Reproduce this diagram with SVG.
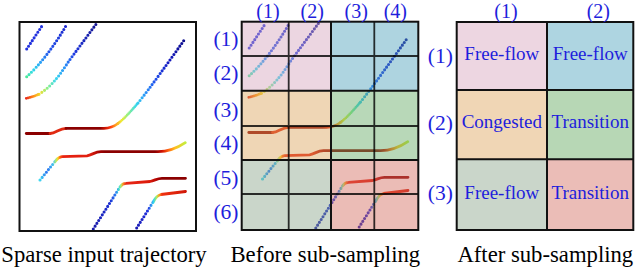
<svg xmlns="http://www.w3.org/2000/svg" width="638" height="268" viewBox="0 0 638 268">
<style>
.dot{fill:none;stroke-linecap:round;stroke-dasharray:0 3.35;stroke-width:3.1}
.dns{fill:none;stroke-linecap:round;stroke-dasharray:0 1.8;stroke-width:2.8}
.sol{fill:none;stroke-linecap:round;stroke-width:2.8}
.frame{fill:none;stroke:#111;stroke-width:2}
.sub{fill:none;stroke:#000;stroke-opacity:0.8;stroke-width:1.8}
.lbl{font-family:"Liberation Serif","Times New Roman",serif;font-size:21.5px;fill:#1e1edc;text-anchor:middle}
.top{font-size:20px}
.cell{font-family:"Liberation Serif","Times New Roman",serif;font-size:19px;fill:#1e1edc;text-anchor:middle}
.cap{font-family:"Liberation Serif","Times New Roman",serif;font-size:22.7px;fill:#000;text-anchor:middle}
</style>
<defs>
<linearGradient id="gB" gradientUnits="userSpaceOnUse" x1="26.7" y1="76.7" x2="67" y2="24">
<stop offset="0" stop-color="#4ce89a"/><stop offset="0.12" stop-color="#30dce8"/><stop offset="0.3" stop-color="#2aa0f6"/><stop offset="0.5" stop-color="#2456ea"/><stop offset="1" stop-color="#1a22cc"/>
</linearGradient>
<linearGradient id="gC" gradientUnits="userSpaceOnUse" x1="26" y1="0" x2="97" y2="0">
<stop offset="0" stop-color="#e8281a"/><stop offset="0.1" stop-color="#ff8a1a"/><stop offset="0.2" stop-color="#f0e030"/><stop offset="0.3" stop-color="#8cf08a"/><stop offset="0.42" stop-color="#38d8f0"/><stop offset="0.55" stop-color="#2a90f8"/><stop offset="0.68" stop-color="#2038e0"/><stop offset="1" stop-color="#12128c"/>
</linearGradient>
<linearGradient id="gD" gradientUnits="userSpaceOnUse" x1="100" y1="0" x2="186" y2="0">
<stop offset="0" stop-color="#8b0000"/><stop offset="0.05" stop-color="#c41000"/><stop offset="0.12" stop-color="#ff3a10"/><stop offset="0.18" stop-color="#ff9a20"/><stop offset="0.25" stop-color="#f0ea30"/><stop offset="0.33" stop-color="#8cf08c"/><stop offset="0.42" stop-color="#38d8ec"/><stop offset="0.52" stop-color="#2a98f8"/><stop offset="0.64" stop-color="#2050ec"/><stop offset="0.8" stop-color="#1418c0"/><stop offset="1" stop-color="#0c0c86"/>
</linearGradient>
<linearGradient id="gE" gradientUnits="userSpaceOnUse" x1="40" y1="0" x2="186" y2="0">
<stop offset="0" stop-color="#40d8f0"/><stop offset="0.048" stop-color="#2a70f0"/><stop offset="0.089" stop-color="#40c0f0"/><stop offset="0.11" stop-color="#b0f070"/><stop offset="0.123" stop-color="#ffd020"/><stop offset="0.137" stop-color="#ff6010"/><stop offset="0.158" stop-color="#e82010"/><stop offset="0.342" stop-color="#e02010"/><stop offset="0.411" stop-color="#a00000"/><stop offset="0.445" stop-color="#8b0000"/><stop offset="0.788" stop-color="#8b0000"/><stop offset="0.836" stop-color="#d01000"/><stop offset="0.877" stop-color="#ff6010"/><stop offset="0.925" stop-color="#ffc020"/><stop offset="1" stop-color="#c0f040"/>
</linearGradient>
<linearGradient id="gF" gradientUnits="userSpaceOnUse" x1="93" y1="0" x2="186" y2="0">
<stop offset="0" stop-color="#1a1aa8"/><stop offset="0.183" stop-color="#1c30d4"/><stop offset="0.247" stop-color="#2a82f4"/><stop offset="0.28" stop-color="#40e0d0"/><stop offset="0.301" stop-color="#b0f070"/><stop offset="0.323" stop-color="#ff9020"/><stop offset="0.355" stop-color="#e82818"/><stop offset="0.613" stop-color="#dc1a0a"/><stop offset="0.699" stop-color="#a80000"/><stop offset="0.742" stop-color="#8b0000"/><stop offset="1" stop-color="#8b0000"/>
</linearGradient>
<linearGradient id="gG" gradientUnits="userSpaceOnUse" x1="136" y1="0" x2="186" y2="0">
<stop offset="0" stop-color="#1a1ab0"/><stop offset="0.24" stop-color="#2030e0"/><stop offset="0.3" stop-color="#3090f0"/><stop offset="0.35" stop-color="#30d4f0"/><stop offset="0.41" stop-color="#a8f060"/><stop offset="0.46" stop-color="#ffa020"/><stop offset="0.52" stop-color="#f03010"/><stop offset="1" stop-color="#d01808"/>
</linearGradient>
</defs>

<rect width="638" height="268" fill="#fff"/>

<g id="panel-sparse">
  <g id="traj">
    <path class="dot" stroke="#2232de" d="M26.7,49 L43.3,24"/>
    <path class="dot" stroke="url(#gB)" d="M26.7,76.7 C40,65 55,45 67,24"/>
    <path class="dns" stroke="url(#gC)" d="M26.3,98.3 C31,97.3 35,96 39,94.2"/>
    <path class="dot" stroke="url(#gC)" d="M39,94.2 C46,90 52,84 56.5,78.5 C62,72 66,65 70,59.5 L96.7,23.3"/>
    <path class="sol" stroke="#8b0000" d="M26.3,133.5 L50,133.5"/>
    <path class="sol" stroke="#e02a12" d="M50,133.5 C56,133.5 59,128.4 66,128.4"/>
    <path class="sol" stroke="url(#gD)" d="M66,128.4 L104,128.3 C110,128.2 114,126.5 118,123.5"/>
    <path class="dns" stroke="url(#gD)" d="M118,123.5 C125,118 132,110 138,103"/>
    <path class="dot" stroke="url(#gD)" d="M138,103 C150,88 170,60 185.3,38.5"/>
    <path class="dot" stroke="url(#gE)" d="M40,180 L55.5,161"/>
    <path class="sol" stroke="url(#gE)" d="M55.5,161 C57,159 58.5,157 62,156.7 L87,155.8 C92,155 95,151.7 101,151.7 L158,151.7 C168,151.7 176,149 185.3,142.7"/>
    <path class="dot" stroke="url(#gF)" d="M93.3,229 L120,187"/>
    <path class="sol" stroke="url(#gF)" d="M120,187 C121.5,184.5 123,183.3 126,183.3 L150,181.5 C155,180.5 157,178.3 162,178.3 L185.5,178.3"/>
    <path class="dot" stroke="url(#gG)" d="M136.7,228 L153.5,201.5"/>
    <path class="sol" stroke="url(#gG)" d="M153.5,201.5 C155,198.5 157,195.5 161,194.5 L185.5,191.5"/>
  </g>
  <rect class="frame" x="19.5" y="22" width="176.5" height="209"/>
  <text class="cap" x="104" y="262">Sparse input trajectory</text>
</g>

<g id="panel-before">
  <use href="#traj" transform="translate(222.5,-1)"/>
  <g id="before-overlays" fill-opacity="0.45">
    <rect x="241.7" y="21.7" width="89.3" height="69" fill="#d5a4bc"/>
    <rect x="331" y="21.7" width="87.3" height="69" fill="#4b9fba"/>
    <rect x="241.7" y="90.7" width="89.3" height="69.3" fill="#dba45b"/>
    <rect x="331" y="90.7" width="87.3" height="69.3" fill="#61a861"/>
    <rect x="241.7" y="160" width="89.3" height="70" fill="#89a489"/>
    <rect x="331" y="160" width="87.3" height="70" fill="#d36a5d"/>
  </g>
  <g id="before-grid">
    <path class="sub" d="M288.7,21.7 V230 M374.3,21.7 V230 M241.7,56 H418.3 M241.7,126 H418.3 M241.7,194 H418.3"/>
    <path class="frame" d="M331,21.7 V230 M241.7,90.7 H418.3 M241.7,160 H418.3"/>
    <rect class="frame" x="241.7" y="21.7" width="176.6" height="208.3"/>
  </g>
  <g id="before-col-labels">
    <text class="lbl top" x="268" y="17.5">(1)</text>
    <text class="lbl top" x="312.2" y="17.5">(2)</text>
    <text class="lbl top" x="356.2" y="17.5">(3)</text>
    <text class="lbl top" x="395.3" y="17.5">(4)</text>
  </g>
  <g id="before-row-labels">
    <text class="lbl" x="226" y="45.5">(1)</text>
    <text class="lbl" x="226" y="79.7">(2)</text>
    <text class="lbl" x="226" y="117">(3)</text>
    <text class="lbl" x="226" y="149.7">(4)</text>
    <text class="lbl" x="226" y="184.7">(5)</text>
    <text class="lbl" x="226" y="219">(6)</text>
  </g>
  <text class="cap" x="325.3" y="262">Before sub-sampling</text>
</g>

<g id="panel-after">
  <g id="cell-1-1"><rect x="456.7" y="22" width="90.3" height="68" fill="#edd6e1"/><text class="cell" x="501.8" y="59.5">Free-flow</text></g>
  <g id="cell-1-2"><rect x="547" y="22" width="86.3" height="68" fill="#aed5e1"/><text class="cell" x="590.2" y="59.5">Free-flow</text></g>
  <g id="cell-2-1"><rect x="456.7" y="90" width="90.3" height="69.3" fill="#f0d6b5"/><text class="cell" x="501.8" y="128.3">Congested</text></g>
  <g id="cell-2-2"><rect x="547" y="90" width="86.3" height="69.3" fill="#b7d7b5"/><text class="cell" x="590.2" y="128.3">Transition</text></g>
  <g id="cell-3-1"><rect x="456.7" y="159.3" width="90.3" height="70.7" fill="#cad6ca"/><text class="cell" x="501.8" y="199.3">Free-flow</text></g>
  <g id="cell-3-2"><rect x="547" y="159.3" width="86.3" height="70.7" fill="#ebbdb7"/><text class="cell" x="590.2" y="199.3">Transition</text></g>
  <g id="after-grid">
    <path class="frame" d="M547,22 V230 M456.7,90 H633.3 M456.7,159.3 H633.3"/>
    <rect class="frame" x="456.7" y="22" width="176.6" height="208"/>
  </g>
  <text class="lbl top" x="506" y="17.5">(1)</text>
  <text class="lbl top" x="598.3" y="17.5">(2)</text>
  <text class="lbl" x="440.3" y="63">(1)</text>
  <text class="lbl" x="440.3" y="129.7">(2)</text>
  <text class="lbl" x="440.3" y="199.7">(3)</text>
  <text class="cap" x="545.3" y="262">After sub-sampling</text>
</g>
</svg>
